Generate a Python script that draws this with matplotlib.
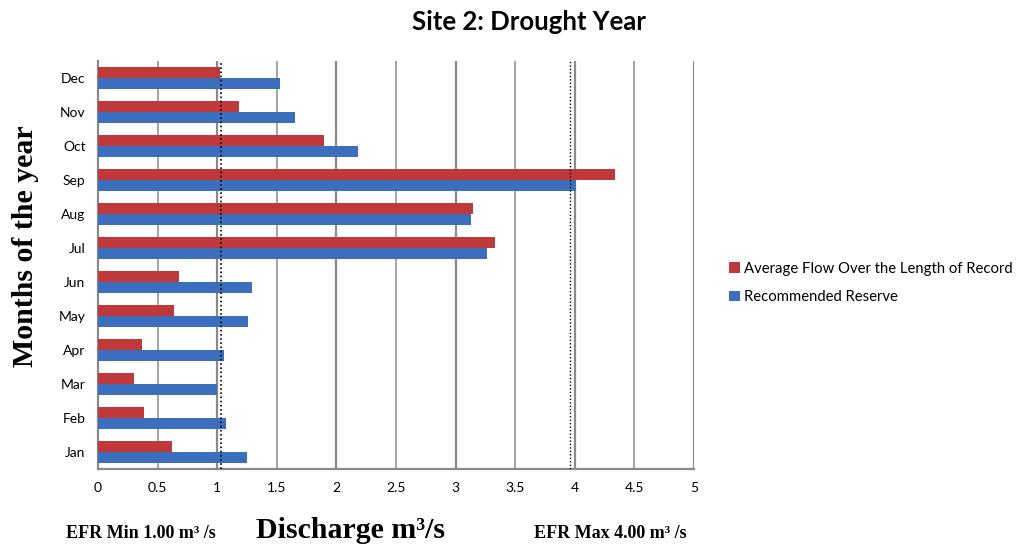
import matplotlib.pyplot as plt
import numpy as np

# --------------------------------------------------------------------
# Data
# --------------------------------------------------------------------
MONTHS = ["Jan", "Feb", "Mar", "Apr", "May", "Jun",
          "Jul", "Aug", "Sep", "Oct", "Nov", "Dec"]
AVG_FLOW = [0.62, 0.39, 0.30, 0.37, 0.64, 0.68,
            3.33, 3.15, 4.34, 1.90, 1.18, 1.02]
RESERVE = [1.25, 1.07, 1.00, 1.06, 1.26, 1.29,
           3.26, 3.13, 4.01, 2.18, 1.65, 1.53]
EFR_MIN = 1.03
EFR_MAX = 3.96
X_TICKS = [0, 0.5, 1, 1.5, 2, 2.5, 3, 3.5, 4, 4.5, 5]
X_TICK_LABELS = ["0", "0.5", "1", "1.5", "2", "2.5", "3", "3.5", "4", "4.5", "5"]

RED = "#C0393A"
BLUE = "#3B6FBE"
GRID = "#8A8A8A"

fig = plt.figure(figsize=(10.16, 5.48), dpi=100)
ax = fig.add_axes([98 / 1016, 1 - 469 / 548, 596 / 1016, 408 / 548])

y = np.arange(len(MONTHS))
h = 0.31
ax.barh(y + h / 2, AVG_FLOW, height=h, color=RED, zorder=3,
        label="Average Flow Over the Length of Record")
ax.barh(y - h / 2, RESERVE, height=h, color=BLUE, zorder=3,
        label="Recommended Reserve")

ax.set_xlim(0, 5)
ax.set_ylim(-0.5, len(MONTHS) - 0.5)
ax.set_xticks(X_TICKS)
ax.set_xticklabels(X_TICK_LABELS)
ax.set_yticks(y)
ax.set_yticklabels(MONTHS)
ax.tick_params(length=0, labelsize=10, pad=9)
for lab in ax.get_xticklabels() + ax.get_yticklabels():
    lab.set_family("Lato")

# vertical gridlines, whole numbers a bit heavier
for xv in X_TICKS[1:]:
    lw = 1.6 if float(xv).is_integer() else 1.1
    ax.axvline(xv, color=GRID, lw=lw, zorder=1)

for s in ["top", "right"]:
    ax.spines[s].set_visible(False)
for s in ["left", "bottom"]:
    ax.spines[s].set_color(GRID)
    ax.spines[s].set_linewidth(1.6)

# EFR min / max markers
ax.axvline(EFR_MIN, color="black", lw=1.2, ls=(0, (1, 1.5)), zorder=4)
ax.axvline(EFR_MAX, color="black", lw=1.0, ls=(0, (1, 1.5)), zorder=4)

fig.text(529 / 1016, 1 - 22 / 548, "Site 2: Drought Year", ha="center", va="center",
         fontsize=18.5, fontweight="bold", family="Lato")
fig.text(26 / 1016, 1 - 246 / 548, "Months of the year", ha="center", va="center",
         rotation=90, fontsize=21.5, fontweight="bold", family="Liberation Serif")
fig.text(351 / 1016, 1 - 531 / 548, "Discharge m³/s", ha="center", va="center",
         fontsize=21.5, fontweight="bold", family="Liberation Serif")
fig.text(141 / 1016, 1 - 534 / 548, "EFR Min 1.00 m³ /s", ha="center", va="center",
         fontsize=13, fontweight="bold", family="Liberation Serif")
fig.text(610 / 1016, 1 - 534 / 548, "EFR Max 4.00 m³ /s", ha="center", va="center",
         fontsize=13, fontweight="bold", family="Liberation Serif")

leg = fig.legend(loc="center left", bbox_to_anchor=(716 / 1016, 1 - 283 / 548),
                 frameon=False, handlelength=0.7, handleheight=0.7,
                 handletextpad=0.3, labelspacing=1.0,
                 prop={"family": "Lato", "size": 10.7})

fig.savefig("out.png", dpi=100)
